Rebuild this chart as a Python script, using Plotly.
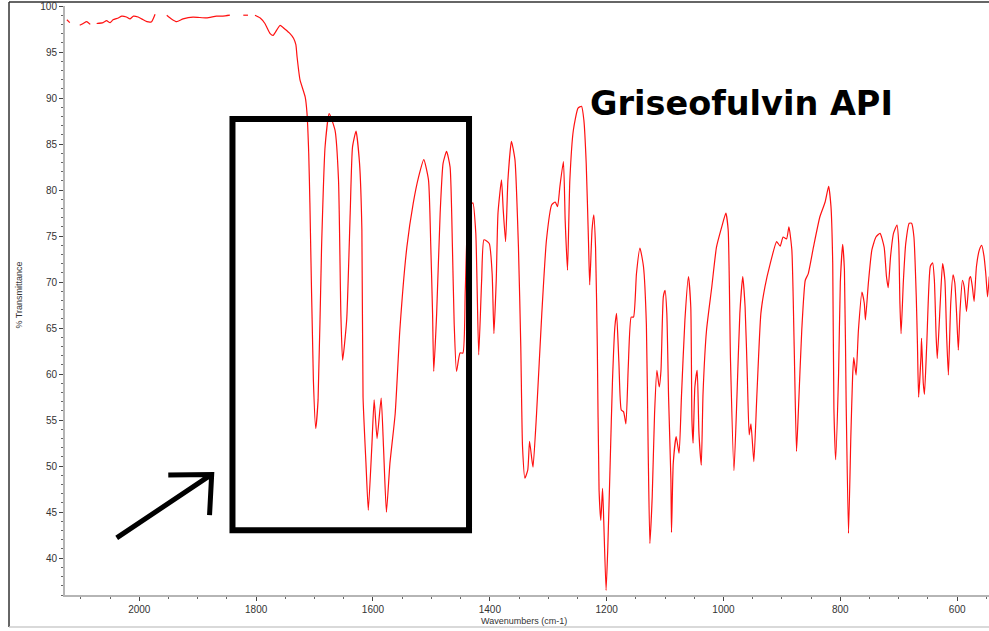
import plotly.graph_objects as go

# FT-IR spectrum of griseofulvin (API), % transmittance vs wavenumber (cm-1).
# None marks breaks in the recorded trace.
wavenumbers = [
    2124, 2119, None,
    2102, 2096, 2090, 2084, None,
    2073, 2062, 2056, 2050, 2045, 2036, 2030, 2022, 2016, 2010, 2002, 1996,
    1987, 1979, 1973, None,
    1953, 1945, 1936, 1925, 1908, 1885, 1868, 1857, 1845, None,
    1822, 1814, None,
    1802, 1793, 1785, 1776, 1771, 1759, 1751, 1742, 1736, 1732, 1730, 1725,
    1716, 1713, 1710, 1708, 1702, 1698, 1694, 1688, 1682, 1675, 1665, 1659,
    1655, 1652, 1645, 1639, 1635, 1629, 1623, 1619, 1617, 1612, 1608, 1602,
    1598, 1593, 1586, 1582, 1577, 1571, 1562, 1554, 1542, 1531, 1522, 1513,
    1505, 1501, 1498, 1496, 1491, 1485, 1480, 1474, 1468, 1464, 1461, 1457,
    1451, 1446, 1442, 1436, 1429, 1424, 1419, 1414, 1410, 1401, 1396, 1393,
    1389, 1386, 1380, 1377, 1373, 1369, 1363, 1357, 1351, 1347, 1344, 1340,
    1335, 1332, 1328, 1326, 1320, 1311, 1303, 1294, 1288, 1284, 1280, 1274,
    1271, 1267, 1263, 1257, 1249, 1243, 1239, 1235, 1231, 1229, 1225, 1222,
    1219, 1216, 1213, 1210, 1207, 1205, 1201, 1198, 1194, 1190, 1186, 1183,
    1179, 1175, 1171, 1167, 1163, 1158, 1154, 1149, 1143, 1137, 1132, 1129,
    1126, 1122, 1118, 1114, 1110, 1107, 1103, 1100, 1097, 1094, 1090, 1089,
    1086, 1081, 1076, 1072, 1066, 1060, 1056, 1054, 1052, 1049, 1045, 1042,
    1038, 1035, 1029, 1020, 1012, 1003, 996, 992, 988, 982, 977, 972,
    967, 963, 959, 956, 953, 948, 943, 936, 929, 920, 909, 903,
    898, 892, 888, 883, 879, 875, 872, 866, 860, 855, 846, 835,
    826, 820, 816, 813, 811, 808, 803, 800, 796, 793, 790, 786,
    782, 779, 777, 773, 769, 763, 759, 757, 752, 746, 739, 732,
    725, 721, 718, 714, 709, 703, 700, 698, 696, 692, 688, 682,
    678, 674, 670, 668, 666, 662, 661, 658, 656, 652, 646, 642,
    639, 636, 634, 629, 625, 621, 618, 615, 611, 607, 604, 601,
    598, 595, 591, 588, 584, 579, 577, 574, 571, 567, 562, 558,
    554, 551, 548, 545,
]

transmittance = [
    98.5, 98.2, None,
    97.9, 98.1, 98.3, 98.0, None,
    98.1, 98.2, 98.4, 98.2, 98.5, 98.7, 98.9, 98.8, 98.6, 98.9, 98.8, 98.6,
    98.3, 98.3, 99.1, None,
    99.0, 98.6, 98.3, 98.6, 98.8, 98.7, 98.9, 98.9, 99.0, None,
    99.0, 99.0, None,
    99.0, 98.7, 98.1, 97.0, 96.8, 97.9, 97.5, 97.0, 96.5, 95.8, 94.5, 92.0,
    90.1, 88.4, 84.0, 78.6, 59.3, 54.1, 57.2, 73.8, 84.7, 88.3, 86.5, 81.1,
    66.6, 61.5, 65.9, 77.5, 84.7, 86.4, 82.9, 75.7, 57.5, 50.3, 45.2, 52.1,
    57.2, 53.0, 57.4, 52.1, 45.0, 50.3, 55.7, 64.8, 73.8, 78.6, 81.4, 83.3,
    81.1, 73.8, 66.6, 60.3, 66.6, 77.5, 82.9, 84.2, 82.5, 73.8, 65.5, 60.3,
    62.3, 62.3, 69.1, 78.0, 78.6, 75.3, 62.1, 70.2, 74.6, 74.2, 70.9, 64.4,
    70.2, 77.5, 81.1, 77.8, 74.4, 81.1, 85.3, 83.3, 73.8, 63.0, 52.1, 48.7,
    49.6, 52.7, 50.7, 49.9, 55.7, 66.6, 74.6, 78.4, 78.7, 78.2, 80.4, 83.1,
    76.7, 71.3, 81.1, 86.5, 88.9, 89.1, 87.6, 82.9, 74.2, 69.7, 75.7, 77.3,
    73.8, 63.0, 47.4, 44.1, 47.6, 44.1, 36.5, 41.2, 50.3, 59.3, 65.1, 66.6,
    61.2, 56.1, 55.9, 54.6, 60.8, 66.2, 66.2, 70.9, 73.7, 71.7, 65.4, 52.1,
    41.6, 46.7, 55.7, 60.4, 58.6, 60.4, 68.4, 69.1, 66.6, 57.5, 48.5, 42.8,
    50.3, 53.2, 51.4, 57.5, 65.9, 70.6, 67.3, 55.0, 52.5, 58.6, 60.4, 53.6,
    50.1, 57.9, 64.8, 69.5, 73.8, 76.0, 77.5, 75.7, 61.5, 49.5, 57.5, 66.6,
    70.6, 67.3, 59.3, 53.4, 54.6, 50.5, 57.5, 66.6, 69.5, 72.0, 74.4, 73.9,
    74.9, 74.7, 76.0, 73.5, 63.0, 51.6, 55.7, 64.8, 70.2, 70.9, 73.8, 77.1,
    78.7, 80.4, 78.2, 72.0, 56.3, 50.7, 60.0, 70.0, 74.1, 71.3, 56.8, 42.7,
    53.2, 59.7, 61.8, 59.9, 64.8, 68.9, 67.7, 65.9, 69.9, 73.5, 74.9, 75.3,
    73.8, 70.6, 69.4, 72.8, 75.3, 76.2, 74.2, 67.7, 64.4, 70.2, 74.2, 76.4,
    76.4, 74.9, 68.4, 63.3, 57.5, 61.9, 63.9, 59.0, 57.8, 63.3, 71.7, 72.1,
    70.2, 64.1, 61.7, 67.7, 72.0, 70.2, 64.1, 59.9, 67.7, 70.8, 69.9, 66.6,
    62.6, 67.0, 70.2, 69.5, 66.8, 70.4, 70.6, 69.5, 67.9, 71.7, 73.5, 74.0,
    72.8, 70.9, 68.4, 70.6,
]

x_tick_values = [2000, 1800, 1600, 1400, 1200, 1000, 800, 600]
y_tick_values = [40, 45, 50, 55, 60, 65, 70, 75, 80, 85, 90, 95, 100]

title_text = "Griseofulvin API"
x_title = "Wavenumbers (cm-1)"
y_title = "% Transmittance"

fig = go.Figure()
fig.add_trace(go.Scatter(
    x=wavenumbers,
    y=transmittance,
    mode="lines",
    line=dict(color="#ff1111", width=1.2, shape="spline", smoothing=0.5),
    connectgaps=False,
    hoverinfo="x+y",
))

tick_font = dict(family="Liberation Sans, Arial, sans-serif", size=10, color="#333333")

fig.update_layout(
    width=989,
    height=631,
    margin=dict(l=65, r=0, t=6, b=36),
    paper_bgcolor="white",
    plot_bgcolor="white",
    showlegend=False,
    xaxis=dict(
        range=[2127.2, 545.5],
        tickvals=x_tick_values,
        ticks="outside",
        ticklen=4,
        tickcolor="#444444",
        showgrid=False,
        zeroline=False,
        showline=True,
        linecolor="#b5b5b5",
        linewidth=2,
        tickfont=tick_font,
        minor=dict(dtick=50, tick0=0, ticks="outside", ticklen=2, tickcolor="#666666", showgrid=False),
    ),
    yaxis=dict(
        range=[36.0, 100.0],
        tickvals=y_tick_values,
        ticks="outside",
        ticklen=4,
        tickcolor="#444444",
        showgrid=False,
        zeroline=False,
        showline=True,
        linecolor="#b5b5b5",
        linewidth=2,
        tickfont=tick_font,
        minor=dict(dtick=1, tick0=0, ticks="outside", ticklen=2, tickcolor="#666666", showgrid=False),
    ),
)

# Axis titles
fig.add_annotation(
    text=x_title, xref="paper", yref="paper", x=0.4968, y=-0.0442,
    showarrow=False, xanchor="center", yanchor="middle",
    font=dict(family="Liberation Sans, Arial, sans-serif", size=9, color="#333333"),
)
fig.add_annotation(
    text=y_title, xref="paper", yref="paper", x=-0.0498, y=0.51,
    showarrow=False, xanchor="center", yanchor="middle", textangle=-90,
    font=dict(family="Liberation Sans, Arial, sans-serif", size=9, color="#333333"),
)

# Compound label
fig.add_annotation(
    text="<b>" + title_text + "</b>", xref="paper", yref="paper", x=0.7325, y=0.834,
    showarrow=False, xanchor="center", yanchor="middle",
    font=dict(family="DejaVu Sans, Arial Black, sans-serif", size=33.5, color="black"),
)

# Box highlighting the carbonyl / aromatic region
fig.add_shape(
    type="rect", xref="x", yref="y",
    x0=1840.5, x1=1435.6, y0=43.04, y1=87.72,
    line=dict(color="black", width=6),
    fillcolor="rgba(0,0,0,0)",
)

# Hand-drawn style pointer arrow
fig.add_shape(
    type="path", xref="x", yref="y",
    path="M 2038.7,42.21 L 1876.1,49.10 M 1950.4,49.05 L 1876.1,49.10 L 1879.8,44.67",
    line=dict(color="black", width=5),
)

# Outer frame lines around the figure
fig.add_shape(type="line", xref="paper", yref="paper",
              x0=-0.0606, x1=1.0, y0=1.0068, y1=1.0068,
              line=dict(color="#333333", width=1.5))
fig.add_shape(type="line", xref="paper", yref="paper",
              x0=-0.0606, x1=-0.0606, y0=1.0068, y1=-0.0544,
              line=dict(color="#333333", width=1.5))
fig.add_shape(type="line", xref="paper", yref="paper",
              x0=-0.0606, x1=1.0, y0=-0.0544, y1=-0.0544,
              line=dict(color="#cccccc", width=1.5))

fig.write_html("out.html")
